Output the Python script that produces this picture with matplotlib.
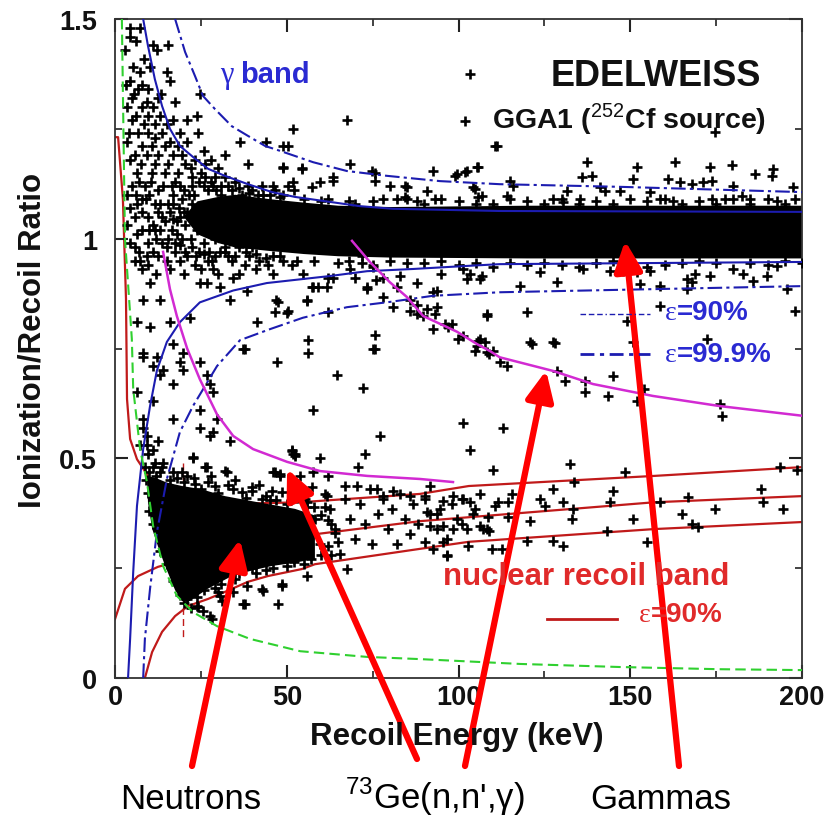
import matplotlib
matplotlib.use("Agg")
import matplotlib.pyplot as plt
from matplotlib.lines import Line2D

plt.rcParams['font.family'] = ['Liberation Sans', 'DejaVu Sans']
plt.rcParams['mathtext.fontset'] = 'custom'
plt.rcParams['mathtext.rm'] = 'Liberation Sans'
plt.rcParams['mathtext.bf'] = 'Liberation Sans:bold'

W, H = 838, 820

# ---------------- band boundaries (recoil energy keV, ionization/recoil ratio)
gam90_hi_E = [8.2, 9.6, 11.6, 13.7, 16, 18.9, 22.7, 27.1, 32, 38.7, 45.7, 52.4, 71.3, 80.9, 112, 200]
gam90_hi_R = [1.5, 1.439, 1.363, 1.302, 1.25, 1.211, 1.186, 1.159, 1.143, 1.124, 1.106, 1.095, 1.074, 1.068, 1.063, 1.061]
gam90_lo_E = [3.8, 4.4, 5.3, 6.4, 8.2, 10.2, 12.2, 15.1, 18.9, 24.7, 34.4, 44.2, 62.6, 73.4, 86.8, 102.5, 112, 200]
gam90_lo_R = [0.0, 0.089, 0.241, 0.392, 0.521, 0.619, 0.70, 0.765, 0.81, 0.855, 0.882, 0.899, 0.915, 0.926, 0.931, 0.938, 0.942, 0.947]
gam999_hi_E = [17.5, 20.4, 23.3, 25.6, 29.1, 34, 38.7, 43.7, 48, 57.7, 67.5, 79.2, 94.6, 112, 147, 200]
gam999_hi_R = [1.5, 1.425, 1.37, 1.325, 1.295, 1.256, 1.234, 1.211, 1.2, 1.174, 1.154, 1.143, 1.131, 1.124, 1.118, 1.106]
gam999_lo_E = [8.2, 8.7, 10.2, 12.2, 15.1, 18.9, 22.7, 29.7, 36.4, 45.1, 54.7, 67.5, 80, 92.6, 112, 200]
gam999_lo_R = [0.0, 0.089, 0.203, 0.332, 0.453, 0.56, 0.619, 0.71, 0.769, 0.794, 0.82, 0.844, 0.856, 0.87, 0.878, 0.892]

nr_hi_E = [0, 0.9, 2.3, 3.2, 3.5, 4.4, 6.4, 10.2, 18.9, 33.5, 53.9, 88.8, 103, 157, 200]
nr_hi_R = [1.231, 1.231, 1.09, 0.863, 0.635, 0.544, 0.498, 0.453, 0.407, 0.396, 0.40, 0.419, 0.437, 0.46, 0.48]
nr_mid_E = [0, 2.9, 6.7, 12.5, 30, 53.9, 88.8, 157, 200]
nr_mid_R = [0.134, 0.203, 0.232, 0.253, 0.29, 0.323, 0.357, 0.40, 0.414]
nr_lo_E = [8.7, 10.8, 13.7, 17.5, 21.3, 27.1, 32, 38.7, 44.5, 54.4, 58.2, 88.8, 103, 157, 200]
nr_lo_R = [0.0, 0.059, 0.105, 0.141, 0.164, 0.18, 0.196, 0.219, 0.232, 0.248, 0.259, 0.294, 0.31, 0.339, 0.355]
thresh_E = [19.8, 19.8]
thresh_R = [0.49, 0.09]

ion_thr_E = [2.0, 2.9, 4.9, 5.3, 6.4, 7.3, 9.3, 11.1, 14, 18, 22.7, 29.7, 39.3, 53.9, 73.4, 88.8, 117.9, 147, 176, 200]
ion_thr_R = [1.5, 1.0, 0.772, 0.658, 0.583, 0.521, 0.446, 0.346, 0.255, 0.187, 0.15, 0.118, 0.089, 0.061, 0.048, 0.043, 0.032, 0.025, 0.02, 0.018]

ge73_a_E = [14, 16, 18, 19.5, 21, 24.7, 29.7, 34.4, 40.2, 50.1, 59.7, 73.4, 88.8, 98.4]
ge73_a_R = [0.97, 0.885, 0.824, 0.787, 0.75, 0.68, 0.60, 0.551, 0.521, 0.492, 0.471, 0.46, 0.453, 0.446]
ge73_b_E = [69, 74.2, 80, 85, 89.7, 99.6, 105.4, 109.2, 112, 127.5, 139.2, 156.6, 176, 200]
ge73_b_R = [0.995, 0.947, 0.901, 0.867, 0.824, 0.788, 0.76, 0.744, 0.73, 0.699, 0.669, 0.642, 0.619, 0.597]

# ---------------- densely populated cores
gamma_core_E = [20, 24, 30, 35, 45, 55, 65, 80, 120, 160, 200, 200, 160, 120, 80, 65, 55, 45, 35, 30, 24]
gamma_core_R = [1.05, 1.085, 1.095, 1.10, 1.09, 1.082, 1.075, 1.072, 1.075, 1.075, 1.075, 0.955, 0.955, 0.955,
                0.957, 0.96, 0.965, 0.972, 0.98, 0.99, 1.01]
neutron_core_E = [9.3, 12, 15, 19.5, 25, 32, 41.6, 52.4, 58.2, 58.2, 52, 45.7, 40, 34, 27, 21.3, 19.5, 17.5, 14.6, 12.5, 10.8, 9.6]
neutron_core_R = [0.46, 0.455, 0.445, 0.437, 0.43, 0.414, 0.40, 0.385, 0.37, 0.271, 0.262, 0.255, 0.245, 0.232, 0.203, 0.173, 0.175, 0.2, 0.255, 0.30, 0.34, 0.40]

# ---------------- individual events
ev_gamma_low = [
    (4.4, 1.48), (7.3, 1.48), (4.4, 1.46), (12.2, 1.43), (15.4, 1.44), (16, 1.36), (5.3, 1.39), (10.2, 1.39),
    (7.3, 1.38), (15.1, 1.38), (4.4, 1.36), (6.7, 1.34), (9.6, 1.34), (4.9, 1.32), (9.3, 1.31), (12.5, 1.32),
    (17.5, 1.31), (3.5, 1.30), (7.9, 1.30), (9.6, 1.28), (4.9, 1.27), (11.6, 1.26), (15.1, 1.26), (21, 1.27),
    (23.9, 1.28), (6.7, 1.24), (9.6, 1.24), (13.7, 1.24), (24.2, 1.24), (3.5, 1.22), (7.9, 1.21), (10.8, 1.21),
    (14.6, 1.21), (18.3, 1.21), (5.8, 1.19), (9.3, 1.19), (12.5, 1.19), (16.9, 1.19), (20.4, 1.17), (23.3, 1.18),
    (26.2, 1.17), (30, 1.16), (32, 1.19), (38.7, 1.17), (6.4, 1.15), (10.8, 1.15), (14.6, 1.15), (18.3, 1.15),
    (22.4, 1.14), (26.2, 1.14), (29.1, 1.14), (32, 1.14), (34.9, 1.13), (38.7, 1.12), (4.9, 1.12), (8.7, 1.12),
    (12.5, 1.11), (16.6, 1.12), (42.8, 1.12), (46.6, 1.11), (50.4, 1.12), (4.4, 1.07), (7.9, 1.09), (11.6, 1.08),
    (15.4, 1.08), (19.5, 1.09), (5.8, 1.05), (9.6, 1.05), (13.7, 1.05), (18, 1.04), (7.9, 1.02), (11.6, 1.02),
    (16.6, 1.02), (20.4, 1.03), (9.6, 0.99), (13.7, 0.99), (19.5, 1.0), (5.8, 0.98), (9.3, 0.96), (12.5, 0.96),
    (17.5, 0.97), (22.4, 0.98), (5.8, 0.95), (9.6, 0.94), (23.3, 0.94), (28.2, 0.95), (34, 0.95), (37.8, 0.94),
    (44.5, 0.94), (51.5, 0.94), (24.7, 1.33), (36.4, 1.22), (44, 1.22), (49, 1.21), (51.9, 1.25), (54.4, 1.16),
    (67.5, 1.27), (68.4, 1.17), (49, 1.16), (63.5, 1.14), (75.7, 1.15), (80, 1.12), (84.4, 1.12), (85, 1.09),
    (21, 1.06), (23, 1.10), (24, 1.02), (25, 1.07), (26, 0.99), (27, 1.11), (28, 1.04), (22, 1.0), (24.5, 1.13),
    (27.5, 0.97), (29, 1.08), (30, 1.02), (31, 1.10), (32, 0.98), (33, 1.06), (26, 1.05), (28.5, 1.12),
    (6, 1.10), (8, 1.06), (10, 1.10), (11, 1.03), (13, 1.08), (14, 1.12), (16, 1.06), (17, 1.10), (18, 1.01),
    (19, 1.12), (12, 1.0), (15, 0.98), (10.5, 1.13), (7, 1.13), (20, 1.06), (21.5, 1.10),
    (3, 1.43), (6, 1.45), (8.5, 1.41), (11, 1.44), (3.2, 1.35), (5.5, 1.33), (8, 1.35), (11, 1.30), (13.5, 1.33),
    (6, 1.28), (8.5, 1.26), (13, 1.28), (17, 1.27), (19, 1.24), (4, 1.24), (11.5, 1.23), (16, 1.22), (21, 1.22),
    (26, 1.20), (28, 1.18), (4.5, 1.18), (7.5, 1.17), (11.5, 1.17), (15.5, 1.17), (19.5, 1.19), (22, 1.16),
    (25, 1.15), (28, 1.13), (31, 1.12), (34, 1.11), (37, 1.10), (40, 1.11), (43, 1.10), (46, 1.12), (49, 1.10),
    (52, 1.11), (3.5, 1.10), (6.5, 1.08), (9, 1.09), (12.5, 1.06), (14.5, 1.04), (17, 1.08), (19, 1.05),
    (22.5, 1.08), (24, 1.05), (27, 1.02), (29, 1.0), (31, 1.05), (34, 1.03), (36, 1.07), (38, 1.0), (40, 0.98),
    (42, 1.04), (44, 1.07), (3.5, 1.03), (6.5, 1.01), (10, 1.02), (13, 1.02), (15.5, 1.0), (17.5, 0.99),
    (21, 0.96), (24.5, 0.97), (27, 0.95), (30.5, 0.97), (33, 0.96), (36, 0.98), (39, 0.96), (42, 0.95),
    (46, 0.96), (49, 0.95), (53, 0.95), (4.5, 0.99), (7, 0.97), (11, 0.97), (15, 0.95), (19, 0.95), (8, 0.93),
    (12, 0.92), (16, 0.93), (20, 0.92), (25, 0.93), (30, 0.92), (36, 0.92), (41, 0.93), (46, 0.92),
    (17.5, 1.13), (20, 1.11), (22.5, 1.12), (26, 1.12), (29.5, 1.11), (33, 1.12), (36, 1.115), (39, 1.105),
    (41.5, 1.10), (45, 1.10), (48, 1.095), (17, 1.045), (18.5, 1.07), (19, 0.985), (20.5, 0.97), (23.5, 0.96),
    (26, 0.965), (29, 0.96), (32, 0.97), (35, 0.96), (38, 0.97), (41, 0.965), (44, 0.955), (48, 0.96),
]
ev_gamma_right = [
    (103.3, 1.375), (111.2, 1.211), (101.9, 1.268), (174.7, 1.243), (137.4, 1.174), (152, 1.163), (163, 1.174),
    (173.2, 1.163), (179.6, 1.168), (186.3, 1.147), (191.6, 1.159), (191.2, 1.143), (92.6, 1.154), (99.6, 1.147),
    (101.9, 1.152), (105.7, 1.163), (136, 1.14), (138.9, 1.143), (150.8, 1.136), (161, 1.136), (164.5, 1.129),
    (168, 1.124), (171.2, 1.129), (173.8, 1.131), (180, 1.12), (197.4, 1.118), (115, 1.131), (115.9, 1.12),
    (104.8, 1.113), (106.8, 1.097), (131.6, 1.109), (141.2, 1.118), (142.6, 1.109), (147, 1.109), (127.5, 1.09),
    (130.4, 1.083), (135.4, 1.09), (114.1, 1.097), (155.7, 1.106), (158.7, 1.09), (162.4, 1.086), (173.8, 1.09),
    (177.6, 1.09), (182.5, 1.097), (184.9, 1.09), (192.7, 1.086), (93.2, 1.09), (50.4, 1.211), (54.4, 1.159),
    (48.9, 1.163), (74.8, 1.154), (75.7, 1.131), (99, 1.143), (102.5, 1.154), (105.4, 1.163), (110.6, 1.211),
    (85, 1.118), (90.8, 1.109), (104.2, 1.118), (105.7, 1.095), (59.7, 1.129), (63.5, 1.131), (51.8, 1.129),
    (57.3, 1.118), (84.4, 1.095), (78, 1.09), (60, 1.085), (70, 1.08), (90, 1.08), (110, 1.08), (120, 1.085),
    (125, 1.08), (140, 1.085), (145, 1.08), (165, 1.08), (170, 1.085), (185, 1.08), (195, 1.08), (198, 1.09),
    (55, 1.09), (62, 1.09), (68, 1.085), (75, 1.085), (82, 1.09), (88, 1.085), (95, 1.09), (100, 1.085),
    (105, 1.08), (115, 1.09), (130, 1.09), (135, 1.08), (150, 1.09), (155, 1.085), (160, 1.09), (175, 1.08),
    (180, 1.09), (190, 1.09),
    (103.3, 0.92), (106.8, 0.915), (101.3, 0.931), (123.7, 0.924), (128.6, 0.901), (136.2, 0.931), (144, 0.926),
    (147.9, 0.926), (152, 0.924), (155.7, 0.926), (166.5, 0.908), (168, 0.901), (168.8, 0.92), (173.2, 0.915),
    (182.8, 0.92), (189.8, 0.915), (192.7, 0.938), (152.8, 0.897), (158.7, 0.892), (166.5, 0.885), (185.7, 0.904),
    (195.6, 0.885), (117.9, 0.892), (92.6, 0.878), (108.3, 0.829), (119.9, 0.833), (158.7, 0.847), (149, 0.813),
    (198, 0.835), (150.8, 0.765), (172.3, 0.772), (65, 0.945), (75, 0.94), (85, 0.945), (100, 0.94), (115, 0.945),
    (130, 0.94), (140, 0.945), (160, 0.94), (175, 0.945), (190, 0.94), (200, 0.945), (110, 0.935), (135, 0.935),
    (180, 0.93), (120, 0.94), (155, 0.935), (58, 0.95), (68, 0.95), (72, 0.945), (80, 0.95), (90, 0.945),
    (95, 0.95), (105, 0.945), (125, 0.945), (145, 0.95), (150, 0.94), (165, 0.945), (170, 0.95), (185, 0.945),
    (195, 0.95),
]
ev_middle = [
    (7.3, 0.95), (10.2, 0.90), (8.2, 0.86), (13.1, 0.86), (6.4, 0.81), (10.2, 0.80), (16, 0.81), (8.2, 0.74),
    (12.2, 0.73), (16.9, 0.76), (14, 0.70), (19.8, 0.74), (21.8, 0.82), (24.7, 0.90), (28.5, 0.93), (30.6, 0.89),
    (33.5, 0.86), (26.8, 0.90), (34.4, 0.91), (38.4, 0.88), (47, 0.86), (50, 0.83), (55.9, 0.86), (41.3, 0.81),
    (75.7, 0.78), (75.7, 0.75), (56.2, 0.77), (37.3, 0.75), (57.7, 0.89), (61.7, 0.89), (73.4, 0.89), (63.5, 0.91),
    (8.2, 0.73), (11.1, 0.71), (18.9, 0.72), (19.8, 0.70), (24.7, 0.72), (26.8, 0.69), (27.7, 0.67), (28.5, 0.65),
    (16.9, 0.67), (13.1, 0.69), (6.4, 0.65), (11.1, 0.63), (16.9, 0.59), (24.7, 0.61), (24.7, 0.57), (28.5, 0.56),
    (27.7, 0.55), (29.6, 0.59), (33.5, 0.54), (8.2, 0.57), (9.3, 0.53), (11.1, 0.52), (22.7, 0.50), (26.8, 0.48),
    (32.6, 0.47), (19.5, 0.47), (9.3, 0.55), (12.5, 0.54), (9.6, 0.51), (11.6, 0.49), (8.7, 0.48), (13.7, 0.48),
    (7.3, 0.53), (8.2, 0.59), (37.8, 0.75), (47.2, 0.72), (56.2, 0.74), (64.6, 0.69), (72.3, 0.66), (57.7, 0.61),
    (75.1, 0.75), (77.1, 0.55), (51.9, 0.51), (59.7, 0.50), (72.8, 0.51), (46, 0.47), (48, 0.46), (53.9, 0.46),
    (57.7, 0.47), (62, 0.46), (70.7, 0.48), (51.5, 0.52), (52.4, 0.505), (101.3, 0.58), (103.3, 0.52),
    (54.7, 0.92), (62, 0.91), (57.3, 0.89), (59.1, 0.89), (73.4, 0.885), (47.5, 0.856), (55.9, 0.858),
    (46.6, 0.833), (50.4, 0.835), (62, 0.833), (78, 0.867), (80.9, 0.844), (93.7, 0.881), (93.7, 0.844),
    (92.6, 0.794), (98.1, 0.806), (85.9, 0.835), (87.9, 0.829), (89.7, 0.824), (102.5, 0.908), (106.2, 0.908),
    (108.3, 0.824), (101.3, 0.778), (106.2, 0.772), (108.3, 0.742), (104.8, 0.744), (90.8, 0.84), (93.2, 0.829),
    (96.1, 0.806), (99.8, 0.772), (105.7, 0.767), (107.7, 0.765), (120.8, 0.765), (127.5, 0.765), (68.5, 0.93),
    (70, 0.91), (76, 0.905), (83, 0.915), (88, 0.90), (95, 0.92), (70, 0.98), (72, 0.96), (75, 0.935), (78, 0.91),
    (82, 0.89), (86, 0.86), (88, 0.85), (97, 0.80), (110, 0.745), (105.4, 0.756), (109, 0.737), (112, 0.719),
    (114, 0.71), (121.4, 0.76), (128, 0.762), (128.6, 0.699), (131, 0.676), (136.8, 0.676), (136.8, 0.651),
    (143.5, 0.642), (145, 0.687), (154, 0.658), (152, 0.631), (176, 0.624), (176.7, 0.597), (113, 0.569),
    (110, 0.473), (132.5, 0.487), (148.5, 0.469), (133.6, 0.446),
]
ev_nuclear = [
    (127.5, 0.43), (145, 0.426), (115.6, 0.419), (111.5, 0.40), (114.4, 0.40), (123.7, 0.407), (125.2, 0.392),
    (130.4, 0.40), (133.3, 0.385), (144, 0.40), (158.6, 0.40), (166.8, 0.412), (174.7, 0.385), (188, 0.43),
    (188.6, 0.40), (194.4, 0.385), (193.6, 0.48), (198.5, 0.473), (120.8, 0.357), (114.4, 0.366), (133, 0.362),
    (150.8, 0.362), (165, 0.373), (168, 0.351), (169.7, 0.344), (104.2, 0.373), (107, 0.339), (109, 0.335),
    (101, 0.351), (143.2, 0.335), (120, 0.312), (127.5, 0.312), (130.4, 0.30), (155, 0.31), (109.7, 0.294),
    (112.7, 0.294), (96.6, 0.278), (102.8, 0.30),
    (55.3, 0.407), (58.2, 0.362), (59.7, 0.305), (61.1, 0.419), (62.6, 0.385), (64, 0.339), (65.5, 0.282),
    (67, 0.407), (68.4, 0.362), (69.9, 0.316), (71.3, 0.396), (72.8, 0.351), (74.2, 0.43), (74.8, 0.305),
    (76.6, 0.373), (78, 0.407), (79.5, 0.339), (80.6, 0.385), (82.1, 0.305), (83, 0.419), (84.4, 0.362),
    (85.9, 0.328), (86.8, 0.396), (88.2, 0.351), (90.2, 0.407), (91.7, 0.373), (93.7, 0.339), (94.6, 0.385),
    (96.6, 0.316), (98.1, 0.396), (99.6, 0.362), (101, 0.407), (102.5, 0.339), (104.8, 0.385), (106.2, 0.419),
    (108.6, 0.366), (110.6, 0.392), (91.7, 0.437), (90.2, 0.414), (95.5, 0.403), (98.4, 0.414), (101.3, 0.407),
    (103.3, 0.40), (90.8, 0.378), (93.7, 0.373), (91.7, 0.346), (95.5, 0.346), (98.4, 0.339), (106.2, 0.346),
    (108.3, 0.339), (90.2, 0.31), (95.5, 0.31), (92.6, 0.294), (96.6, 0.28), (67, 0.437), (70.4, 0.437),
    (76.3, 0.43), (78, 0.414), (80.9, 0.426), (85.9, 0.414), (61.7, 0.414),
    (22.7, 0.503), (26.2, 0.48), (32, 0.471), (34.4, 0.43), (39.9, 0.435), (23.3, 0.442), (29.1, 0.437),
    (37, 0.423), (45.7, 0.426), (48.6, 0.423), (46.6, 0.469), (48, 0.464), (51.5, 0.517), (52.4, 0.51),
    (42.8, 0.407), (54.4, 0.426), (57.3, 0.435),
    (30, 0.196), (31.2, 0.175), (37.3, 0.168), (42.8, 0.203), (47.5, 0.168), (48.6, 0.214), (24.2, 0.162),
    (25.6, 0.153), (28.2, 0.134), (23.9, 0.164), (30.6, 0.187), (37.8, 0.168), (43.1, 0.198), (48.6, 0.209),
    (55.9, 0.232), (67.5, 0.248), (27.7, 0.141), (38.4, 0.209), (34.4, 0.196),
    (36, 0.24), (40, 0.25), (44, 0.245), (50, 0.255), (55, 0.26), (60, 0.28), (62, 0.30), (64, 0.33), (62, 0.36),
    (60, 0.37), (56, 0.39), (50, 0.395), (45, 0.405), (38, 0.41), (30, 0.42), (25, 0.43), (20, 0.445), (16, 0.45),
    (12, 0.46), (10, 0.47), (9, 0.45), (9.5, 0.42), (10, 0.38), (11, 0.35), (13, 0.29), (15, 0.26), (17, 0.22),
    (19, 0.19), (21, 0.18), (26, 0.2), (31, 0.215),
    (11, 0.48), (13, 0.47), (14, 0.49), (17, 0.47), (18, 0.455), (21, 0.46), (23, 0.455), (27, 0.445), (28, 0.46),
    (33, 0.44), (35, 0.45), (40, 0.425), (42, 0.44), (44, 0.415), (47, 0.405), (53, 0.41), (56, 0.40), (58, 0.39),
    (61, 0.39), (63, 0.35), (65, 0.31), (63, 0.28), (57, 0.27), (52, 0.265), (46, 0.25), (41, 0.24), (35, 0.225),
    (29, 0.205), (24, 0.185), (20, 0.17), (22, 0.16),
]

# ---------------- labels
x_ticks = [0, 50, 100, 150, 200]
y_ticks = [0, 0.5, 1, 1.5]
y_tick_labels = ['0', '0.5', '1', '1.5']

BLUE = '#1c1cb0'
BLUE_TXT = '#2a2ad2'
MAGENTA = '#d22ad2'
GREEN = '#2fd02f'
RED = '#c01a1a'
RED_TXT = '#e02a2a'


def fpx(x, y):
    """figure-pixel position -> figure fraction"""
    return x / W, 1 - y / H


fig = plt.figure(figsize=(W / 100, H / 100), dpi=100)
ax = fig.add_axes([115 / W, 1 - 679 / H, 687 / W, 659 / H])
ax.set_xlim(0, 200)
ax.set_ylim(0, 1.5)

# nuclear recoil band (under the events)
for e, r in [(nr_hi_E, nr_hi_R), (nr_mid_E, nr_mid_R), (nr_lo_E, nr_lo_R)]:
    ax.plot(e, r, color=RED, lw=1.6, zorder=1.5)
ax.plot(thresh_E, thresh_R, color=RED, lw=1.0, ls=(0, (5, 3)), zorder=1.5)

# events
ax.fill(gamma_core_E, gamma_core_R, color='black', lw=0, zorder=2)
ax.fill(neutron_core_E, neutron_core_R, color='black', lw=0, zorder=2)
for grp in (ev_gamma_low, ev_gamma_right, ev_middle, ev_nuclear):
    ax.plot([p[0] for p in grp], [p[1] for p in grp], ls='none', marker='+',
            color='black', ms=7.5, mew=1.9, zorder=3)

# gamma band limits
ax.plot(gam90_hi_E, gam90_hi_R, color=BLUE, lw=1.5, zorder=4)
ax.plot(gam90_lo_E, gam90_lo_R, color=BLUE, lw=1.5, zorder=4)
ax.plot(gam999_hi_E, gam999_hi_R, color=BLUE, lw=1.5, ls=(0, (7, 2, 1.5, 2)), zorder=4)
ax.plot(gam999_lo_E, gam999_lo_R, color=BLUE, lw=1.5, ls=(0, (7, 2, 1.5, 2)), zorder=4)

# 73Ge inelastic lines and ionization threshold
ax.plot(ge73_a_E, ge73_a_R, color=MAGENTA, lw=1.8, zorder=4)
ax.plot(ge73_b_E, ge73_b_R, color=MAGENTA, lw=1.8, zorder=4)
ax.plot(ion_thr_E, ion_thr_R, color=GREEN, lw=1.5, ls=(0, (5, 2.5)), zorder=4)

# axes styling
ax.set_xticks(x_ticks)
ax.set_xticks(range(0, 201, 25), minor=True)
ax.set_yticks(y_ticks)
ax.set_yticklabels(y_tick_labels)
ax.set_yticks([0.25 * i for i in range(7)], minor=True)
ax.tick_params(which='both', direction='in', top=True, right=True, colors='#222222')
ax.tick_params(which='major', length=9.5, width=1.5)
ax.tick_params(which='minor', length=5, width=1.2)
ax.tick_params(axis='x', which='major', pad=4, labelsize=19.5)
ax.tick_params(axis='y', which='major', pad=13, labelsize=19.5)
for lab in ax.get_xticklabels() + ax.get_yticklabels():
    lab.set_fontweight('bold')
    lab.set_color('#111111')
for sp in ax.spines.values():
    sp.set_linewidth(1.3)
    sp.set_color('#333333')

fig.text(*fpx(457, 737), 'Recoil Energy (keV)', fontsize=22.5, fontweight='bold',
         ha='center', va='center', color='#111111')
fig.text(*fpx(33, 340), 'Ionization/Recoil Ratio', fontsize=22.5, fontweight='bold',
         ha='center', va='center', rotation=90, color='#111111')

# in-plot annotations
fig.text(*fpx(234, 83), 'γ', fontsize=22, family='Liberation Serif', color=BLUE_TXT,
         ha='right', va='baseline')
fig.text(*fpx(240, 83), 'band', fontsize=21, fontweight='bold', color=BLUE_TXT,
         ha='left', va='baseline')
fig.text(*fpx(656, 77), 'EDELWEISS', fontsize=26, fontweight='bold', color='#111111',
         ha='center', va='center')
fig.text(*fpx(766, 128), 'GGA1 ($^{252}$Cf source)', fontsize=20.5, fontweight='bold',
         color='#111111', ha='right', va='baseline')

fig.add_artist(Line2D([580 / W, 650 / W], [1 - 315 / H] * 2, color=BLUE, lw=1.0,
                      ls=(0, (4, 2, 4, 2, 4, 2, 1, 2))))
fig.add_artist(Line2D([580 / W, 650 / W], [1 - 355 / H] * 2, color=BLUE, lw=2.0,
                      ls=(0, (5, 2, 1.5, 2))))
fig.add_artist(Line2D([547 / W, 617 / W], [1 - 620 / H] * 2, color=RED, lw=2.0))

fig.text(*fpx(677, 320), 'ε', fontsize=20, family='Liberation Serif', color=BLUE_TXT,
         ha='right', va='baseline')
fig.text(*fpx(677, 320), '=90%', fontsize=20, fontweight='bold', color=BLUE_TXT,
         ha='left', va='baseline')
fig.text(*fpx(677, 362), 'ε', fontsize=20, family='Liberation Serif', color=BLUE_TXT,
         ha='right', va='baseline')
fig.text(*fpx(677, 362), '=99.9%', fontsize=20, fontweight='bold', color=BLUE_TXT,
         ha='left', va='baseline')
fig.text(*fpx(586, 585), 'nuclear recoil band', fontsize=22.5, fontweight='bold',
         color=RED_TXT, ha='center', va='baseline')
fig.text(*fpx(651, 622), 'ε', fontsize=20, family='Liberation Serif', color=RED_TXT,
         ha='right', va='baseline')
fig.text(*fpx(651, 622), '=90%', fontsize=20, fontweight='bold', color=RED_TXT,
         ha='left', va='baseline')

# arrows pointing at the event populations
arrows = [((36.4, 0.316), (192, 767)), ((50.1, 0.476), (417, 760)),
          ((125.5, 0.70), (465, 767)), ((148.5, 0.995), (679, 767))]
for tip, tail in arrows:
    ax.annotate('', xy=tip, xycoords='data', xytext=fpx(*tail), textcoords='figure fraction',
                arrowprops=dict(arrowstyle='-|>,head_length=0.9,head_width=0.42', color='#ff0000',
                                lw=4.5, shrinkA=0, shrinkB=0, mutation_scale=20),
                annotation_clip=False, zorder=10)

fig.text(*fpx(191, 809), 'Neutrons', fontsize=25, ha='center', va='baseline', color='black')
fig.text(*fpx(435, 809), "$^{73}$Ge(n,n',γ)", fontsize=25, ha='center', va='baseline', color='black')
fig.text(*fpx(661, 809), 'Gammas', fontsize=25, ha='center', va='baseline', color='black')

fig.savefig('out.png', dpi=100)
